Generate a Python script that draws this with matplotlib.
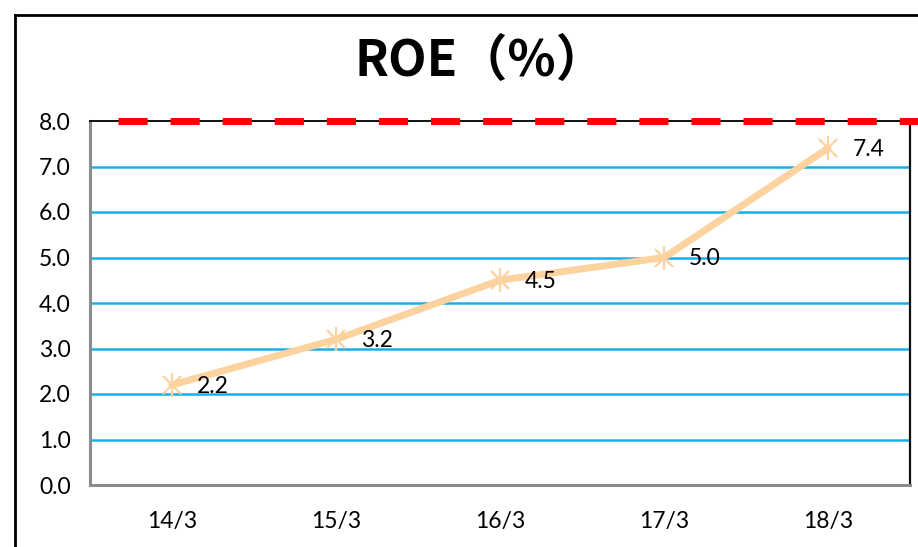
import matplotlib as mpl
import matplotlib.pyplot as plt
from matplotlib.lines import Line2D

mpl.rcParams.update({
    "font.family": ["Lato", "DejaVu Sans"],
    "font.size": 16,
})

periods = ["14/3", "15/3", "16/3", "17/3", "18/3"]
roe = [2.2, 3.2, 4.5, 5.0, 7.4]
target = 8.0
y_ticks = [0.0, 1.0, 2.0, 3.0, 4.0, 5.0, 6.0, 7.0, 8.0]

C_LINE = "#FCD29E"
C_GRID = "#1AAEE8"
C_RED = "#FF0000"

W, H = 918, 547
fig = plt.figure(figsize=(W / 100, H / 100), dpi=100)
ax = fig.add_axes([90 / W, 1 - 485 / H, 820 / W, (485 - 121) / H])

x = list(range(len(periods)))
for yv in y_ticks[1:-1]:
    ax.axhline(yv, color=C_GRID, lw=1.8, zorder=1)

ax.plot(x, roe, color=C_LINE, lw=5, zorder=3, solid_capstyle="round")
# Excel-style star marker: an x with a vertical stroke
ax.plot(x, roe, ls="none", marker="x", ms=13, mew=1.6, color=C_LINE, zorder=4)
ax.plot(x, roe, ls="none", marker="|", ms=17, mew=1.6, color=C_LINE, zorder=4)
for xi, v in zip(x, roe):
    ax.annotate(f"{v:.1f}", (xi, v), xytext=(18, -1), textcoords="offset points",
                ha="left", va="center", fontsize=16.5, color="black", zorder=5)

ax.set_xlim(-0.5, len(periods) - 0.5)
ax.set_ylim(0, 8)
ax.set_xticks(x)
ax.set_xticklabels(periods)
ax.set_yticks(y_ticks)
ax.set_yticklabels([f"{v:.1f}" for v in y_ticks])
ax.tick_params(length=0, pad=14, labelsize=16.5)
ax.tick_params(axis="x", pad=19)

for side in ("left", "bottom"):
    ax.spines[side].set_color("#8C8C8C")
    ax.spines[side].set_linewidth(2.2)
ax.spines["right"].set_color("#111111")
ax.spines["right"].set_linewidth(1.6)
ax.spines["top"].set_color("#111111")
ax.spines["top"].set_linewidth(1.4)

# red dashed target line on top, extending past the right spine
ax.plot([-0.33, 4.55], [target, target], color=C_RED, lw=5,
        dashes=(4.2, 3.3), clip_on=False, zorder=6, solid_capstyle="butt")

fig.text(480 / W, 1 - 62 / H, "ROE（%）", ha="center", va="center",
         fontsize=36, fontweight="bold",
         family=["Noto Sans CJK SC", "DejaVu Sans"])

# outer chart frame
fig.add_artist(Line2D([15 / W, 15 / W], [0, 1 - 15 / H], color="black",
                      lw=2, transform=fig.transFigure))
fig.add_artist(Line2D([15 / W, 1], [1 - 15 / H, 1 - 15 / H], color="black",
                      lw=2, transform=fig.transFigure))

fig.savefig("out.png", dpi=100, facecolor="white")
